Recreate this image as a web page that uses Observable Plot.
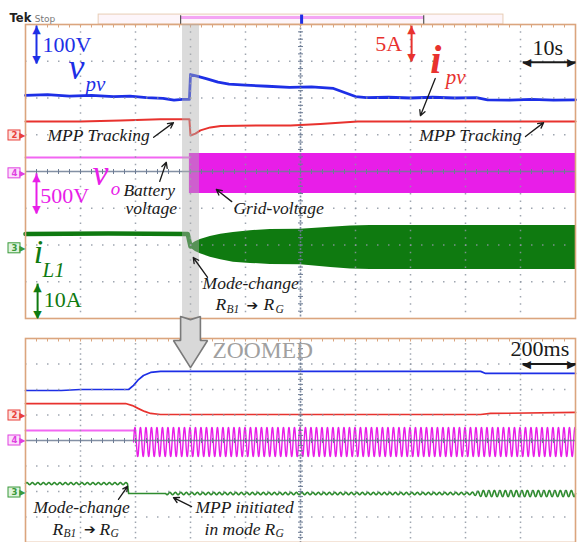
<!DOCTYPE html>
<html><head><meta charset="utf-8">
<script src="https://cdn.jsdelivr.net/npm/d3@7"></script>
<script src="https://cdn.jsdelivr.net/npm/@observablehq/plot@0.6"></script>
<style>
body{margin:0;background:#fff;}
#chart{position:relative;width:577px;height:542px;overflow:hidden;background:#fff;}
#chart svg{display:block;overflow:visible;}
</style></head><body><div id="chart"></div>
<script>
// ===== DATA (values in oscilloscope graticule divisions; time in seconds) =====
// Top panel, 10 s/div
const topVpvT = [-50,-46,-42,-38,-34,-31,-28,-25,-23,-21.5,-20.2,-20,-19,-17,-15,-13,-10,-6,-2,2,6,8,10,12,16,20,24,28,32,34,38,42,46,50];
const topVpvD = [2.07,2.09,2.05,2.07,2.04,2.05,2.01,1.99,1.94,1.96,1.96,2.64,2.60,2.52,2.43,2.38,2.35,2.32,2.29,2.30,2.26,2.15,2.04,2.01,2.02,2.00,2.02,2.00,2.01,1.95,1.94,1.96,1.94,1.95];
const topIpvT = [-50,-40,-32.7,-25.5,-20.2,-20,-19.1,-18.2,-16.4,-14.5,-7.3,-1.8,3.6,10.4,50];
const topIpvD = [1.36,1.36,1.39,1.42,1.42,0.98,1.03,1.12,1.20,1.24,1.25,1.25,1.29,1.36,1.36];
const topVoLineT = [-50,-20.2];
const topVoLineD = [0.38,0.38];
const topVoBandT = [-20.2,50];
const topVoBandHi = [0.49,0.49];
const topVoBandLo = [-0.60,-0.60];
const topIlLineT = [-50,-35,-20.5,-20.0];
const topIlLineD = [-1.70,-1.69,-1.70,-2.04];
const topIlBandT = [-20.0,-19.6,-19.1,-18.2,-16.4,-14.5,-12.2,-9.1,-5.5,0,5.5,9.1,12.7,50];
const topIlBandHi = [-2.00,-1.96,-1.91,-1.85,-1.77,-1.71,-1.66,-1.61,-1.58,-1.57,-1.52,-1.48,-1.47,-1.47];
const topIlBandLo = [-2.08,-2.12,-2.18,-2.24,-2.33,-2.40,-2.47,-2.50,-2.53,-2.54,-2.61,-2.65,-2.67,-2.67];
const topModeChange = [-21.45,-18.36]; // shaded zoom window

// Bottom panel (zoomed), 200 ms/div
const botVpvT = [-1,-0.87,-0.8,-0.625,-0.607,-0.589,-0.571,-0.545,-0.509,0.655,0.673,1];
const botVpvD = [1.96,1.96,2.0,2.0,2.16,2.39,2.55,2.67,2.71,2.71,2.63,2.63];
const botIpvT = [-1,-0.636,-0.611,-0.589,-0.567,-0.545,-0.509,0.655,0.691,1];
const botIpvD = [1.45,1.45,1.37,1.25,1.14,1.06,1.02,1.02,1.06,1.10];
const botVoLineT = [-1,-0.607];
const botVoLineD = [0.39,0.39];
const gridHz = 50;                 // grid-voltage frequency read from cycles per division
const botVoStart = -0.607, botVoEnd = 1, botVoCenter = -0.06, botVoAmp = 0.57;
const botIlLevelT = [-1,-0.629,-0.625,1];
const botIlLevelD = [-1.69,-1.69,-2.08,-2.08];
const botIlRippleT = [-1,-0.629,-0.628,-0.49,-0.489,0.62,0.66,1];
const botIlRippleA = [0.04,0.04,0,0,0.045,0.045,0.12,0.12];

// ===== STYLE =====
const BLUE="#1d2fe6", RED="#e8322e", MAG="#e81ee8", MAGL="#f266f2", GREEN="#0f7a10", GREENB="#2f8c2f", INK="#1a1a1a";
const TAN="#dba57e", GRID="#8e97a2", AXIS="#6d7c94";
const serif="'Liberation Serif','DejaVu Serif',serif", sans="'DejaVu Sans','Liberation Sans',sans-serif";

const zip = (T,D) => T.map((t,i)=>({t, d:D[i]}));
const zip3 = (T,H,L) => T.map((t,i)=>({t, hi:H[i], lo:L[i]}));

function graticule(xDiv, divPx) {
  const ps = 55/xDiv;
  const majorX = d3.range(-4,5).filter(k=>k!==0).map(k=>k*xDiv);
  const majorY = [-3,-2,-1,1,2,3];
  const minorX = d3.range(-25,26).map(k=>k*xDiv/5);
  const minorY = d3.range(-20,21).map(k=>k/5);
  const per = divPx/5;
  return [
    Plot.ruleY(majorY, {stroke:GRID, strokeWidth:1.5, strokeDasharray:"1.5,9.5", strokeOpacity:0.85}),
    Plot.ruleX(majorX, {stroke:GRID, strokeWidth:1.5, strokeDasharray:`1.5,${(per-1.5).toFixed(2)}`, strokeOpacity:0.85}),
    Plot.ruleY([0], {stroke:AXIS, strokeWidth:1.3, strokeOpacity:0.85}),
    Plot.ruleX([0], {stroke:AXIS, strokeWidth:1.6, strokeDasharray:"2,1.5", strokeOpacity:0.85}),
    Plot.link(minorX, {x1:d=>d, x2:d=>d, y1:-2.5/divPx, y2:2.5/divPx, stroke:AXIS, strokeWidth:1}),
    Plot.link(minorY, {x1:-2.5/ps, x2:2.5/ps, y1:d=>d, y2:d=>d, stroke:AXIS, strokeWidth:1}),
    Plot.link(minorX, {x1:d=>d, x2:d=>d, y1:4, y2:4-3/divPx, stroke:TAN, strokeWidth:1}),
    Plot.frame({stroke:TAN, strokeWidth:1.6})
  ];
}
function labels(arr) {
  return arr.map(l => Plot.text([l], {x:"t", y:"d", text:"s", fontSize:l.size, fill:l.color,
    fontStyle:l.italic?"italic":"normal", fontWeight:l.bold?"bold":"normal", fontFamily:l.font||serif,
    textAnchor:"start", lineAnchor:"bottom"}));
}
function pointers(arr) {
  return [Plot.arrow(arr, {x1:"t1", y1:"d1", x2:"t2", y2:"d2", stroke:INK, strokeWidth:1.3, headLength:7, headAngle:55})];
}
function bars(arr) {
  return arr.flatMap(b => {
    const m = [Plot.link([b], {x1:"t1", y1:"d1", x2:"t2", y2:"d2", stroke:b.color, strokeWidth:2})];
    const g = {fontFamily:sans, fontSize:11, fill:b.color};
    if (b.v) {
      m.push(Plot.text([b], {x:"t1", y:"d1", text:()=>"▲", textAnchor:"middle", lineAnchor:"top", ...g}));
      m.push(Plot.text([b], {x:"t2", y:"d2", text:()=>"▼", textAnchor:"middle", lineAnchor:"bottom", ...g}));
    } else {
      m.push(Plot.text([b], {x:"t1", y:"d1", text:()=>"◀", textAnchor:"start", lineAnchor:"middle", ...g}));
      m.push(Plot.text([b], {x:"t2", y:"d2", text:()=>"▶", textAnchor:"end", lineAnchor:"middle", ...g}));
    }
    return m;
  });
}
function tags(arr, xLeft) {
  return arr.flatMap(c => [
    Plot.rect([c], {x1:xLeft, x2:xLeft, y1:"d", y2:"d", insetLeft:-17, insetRight:5, insetTop:-5, insetBottom:-5, fill:c.light, stroke:c.color, strokeWidth:1}),
    Plot.text([c], {x:xLeft, y:"d", text:()=>"▶", fontSize:8, fill:c.color, textAnchor:"end", lineAnchor:"middle", dx:0, fontFamily:sans}),
    Plot.text([c], {x:xLeft, y:"d", text:"ch", fontSize:8.5, fontWeight:"bold", fill:c.color, textAnchor:"middle", lineAnchor:"middle", dx:-11, fontFamily:sans})
  ]);
}

// ===== annotation layout =====
const topLabels = [
  {t:-46.9,d:3.24,s:"100V",size:22,color:BLUE},
  {t:-42.2,d:2.53,s:"v",size:36,color:BLUE,italic:true},
  {t:-39.1,d:2.20,s:"pv",size:21,color:BLUE,italic:true},
  {t:13.6,d:3.29,s:"5A",size:22,color:RED},
  {t:23.6,d:2.69,s:"i",size:40,color:RED,italic:true,bold:true},
  {t:26.4,d:2.37,s:"pv",size:21,color:RED,italic:true},
  {t:42.2,d:3.18,s:"10s",size:22,color:INK},
  {t:-46.0,d:0.84,s:"MPP Tracking",size:17.5,color:INK,italic:true},
  {t:21.6,d:0.84,s:"MPP Tracking",size:17.5,color:INK,italic:true},
  {t:-47.3,d:-0.87,s:"500V",size:22,color:MAG},
  {t:-37.8,d:-0.38,s:"v",size:36,color:MAG,italic:true},
  {t:-34.5,d:-0.65,s:"o",size:19,color:MAG,italic:true},
  {t:-32.2,d:-0.68,s:"Battery",size:17.5,color:INK,italic:true},
  {t:-31.8,d:-1.17,s:"voltage",size:17.5,color:INK,italic:true},
  {t:-12.2,d:-1.17,s:"Grid-voltage",size:17.5,color:INK,italic:true},
  {t:-48.5,d:-2.50,s:"i",size:34,color:GREEN,italic:true},
  {t:-46.9,d:-2.86,s:"L1",size:21,color:GREEN,italic:true},
  {t:-46.7,d:-3.70,s:"10A",size:22,color:GREEN},
  {t:-17.8,d:-3.21,s:"Mode-change",size:17.5,color:INK,italic:true},
  {t:-15.45,d:-3.78,s:"R",size:17.5,color:INK,italic:true},
  {t:-13.45,d:-3.86,s:"B1",size:11.5,color:INK,italic:true},
  {t:-9.8,d:-3.76,s:"➔",size:14,color:INK,font:sans},
  {t:-6.73,d:-3.78,s:"R",size:17.5,color:INK,italic:true},
  {t:-4.55,d:-3.86,s:"G",size:11.5,color:INK,italic:true},
  {t:-52.9,d:4.08,s:"Tek",size:11.5,color:"#222",bold:true,font:sans},
  {t:-48.3,d:4.08,s:"Stop",size:9,color:"#777",font:sans}
];
const topArrows = [
  {t1:-26.7,d1:0.93,t2:-23.1,d2:1.33},
  {t1:40.9,d1:0.95,t2:44.2,d2:1.33},
  {t1:24.5,d1:2.53,t2:21.8,d2:1.52},
  {t1:-25.6,d1:-0.27,t2:-24.4,d2:0.25},
  {t1:-12.5,d1:-0.82,t2:-15.3,d2:-0.49},
  {t1:-16.9,d1:-2.88,t2:-19.5,d2:-2.34}
];
const topBars = [
  {t1:-48,d1:3.97,t2:-48,d2:2.94,color:BLUE,v:true},
  {t1:20.2,d1:3.97,t2:20.2,d2:3.0,color:RED,v:true},
  {t1:-48,d1:-0.05,t2:-48,d2:-1.14,color:MAG,v:true},
  {t1:-47.8,d1:-3.05,t2:-47.8,d2:-3.98,color:GREEN,v:true},
  {t1:40.4,d1:2.97,t2:50,d2:2.97,color:INK,v:false}
];
const topTags = [
  {ch:"2",d:0.98,color:"#e8403a",light:"#fde0de"},
  {ch:"4",d:-0.05,color:"#e040e0",light:"#fbe0fb"},
  {ch:"3",d:-2.09,color:"#3a9a3a",light:"#e0f3e0"}
];
const botLabels = [
  {t:0.764,d:3.30,s:"200ms",size:22,color:INK},
  {t:-0.32,d:3.216,s:"ZOOMED",size:23.5,color:"#a0a0a0"},
  {t:-0.971,d:-2.86,s:"Mode-change",size:17.5,color:INK,italic:true},
  {t:-0.902,d:-3.69,s:"R",size:17.5,color:INK,italic:true},
  {t:-0.862,d:-3.80,s:"B1",size:11.5,color:INK,italic:true},
  {t:-0.787,d:-3.66,s:"➔",size:14,color:INK,font:sans},
  {t:-0.731,d:-3.69,s:"R",size:17.5,color:INK,italic:true},
  {t:-0.691,d:-3.80,s:"G",size:11.5,color:INK,italic:true},
  {t:-0.382,d:-2.86,s:"MPP initiated",size:17.5,color:INK,italic:true},
  {t:-0.349,d:-3.69,s:"in mode",size:17.5,color:INK,italic:true},
  {t:-0.131,d:-3.69,s:"R",size:17.5,color:INK,italic:true},
  {t:-0.091,d:-3.80,s:"G",size:11.5,color:INK,italic:true}
];
const botArrows = [
  {t1:-0.662,d1:-2.31,t2:-0.629,d2:-1.80},
  {t1:-0.396,d1:-2.59,t2:-0.462,d2:-2.24}
];
const botBars = [{t1:0.807,d1:3.0,t2:1.0,d2:3.0,color:INK,v:false}];
const botTags = [
  {ch:"2",d:0.98,color:"#e8403a",light:"#fde0de"},
  {ch:"4",d:0,color:"#e040e0",light:"#fbe0fb"},
  {ch:"3",d:-2.04,color:"#3a9a3a",light:"#e0f3e0"}
];
const zoomArrow = [[-0.436,4.86],[-0.4,4.74],[-0.364,4.86],[-0.364,3.92],[-0.338,3.92],[-0.4,2.86],[-0.462,3.92],[-0.436,3.92],[-0.436,4.86]];

// ===== TOP PANEL =====
const topPlot = Plot.plot({
  width:577, height:330, marginTop:24, marginBottom:12, marginLeft:25, marginRight:2,
  x:{domain:[-50,50], axis:null}, y:{domain:[-4,4], axis:null},
  style:{overflow:"visible", background:"transparent"},
  marks:[
    Plot.rect([{}], {x1:-36.7, x2:36.9, y1:4.0, y2:4.27, fill:"#fdf5f9", stroke:"#e8cdb5"}),
    Plot.link([{}], {x1:-21.8, x2:22.4, y1:4.19, y2:4.19, stroke:"#f4a6f4", strokeWidth:3}),
    Plot.link([-21.8,22.4], {x1:d=>d, x2:d=>d, y1:4.0, y2:4.25, stroke:"#555", strokeWidth:1.2}),
    Plot.link([{}], {x1:0.2, x2:0.2, y1:4.0, y2:4.27, stroke:BLUE, strokeWidth:3}),
    Plot.areaY(zip3(topVoBandT, topVoBandHi, topVoBandLo), {x:"t", y1:"lo", y2:"hi", fill:MAG}),
    Plot.line(zip(topVoLineT, topVoLineD), {x:"t", y:"d", stroke:MAGL, strokeWidth:2}),
    Plot.areaY(zip3(topIlBandT, topIlBandHi, topIlBandLo), {x:"t", y1:"lo", y2:"hi", fill:GREEN}),
    Plot.line(zip(topIlLineT, topIlLineD), {x:"t", y:"d", stroke:GREEN, strokeWidth:4.5}),
    Plot.line(zip(topIpvT, topIpvD), {x:"t", y:"d", stroke:RED, strokeWidth:2}),
    Plot.line(zip(topVpvT, topVpvD), {x:"t", y:"d", stroke:BLUE, strokeWidth:2.8, curve:"linear"}),
    ...graticule(10, 36.75),
    Plot.rect([{}], {x1:topModeChange[0], x2:topModeChange[1], y1:-4.3, y2:4, fill:"#b0b0b0", fillOpacity:0.45}),
    ...tags(topTags, -50),
    ...bars(topBars),
    ...pointers(topArrows),
    ...labels(topLabels)
  ]
});

// ===== BOTTOM PANEL =====
const voPts = d3.range(botVoStart, botVoEnd, 0.0004).map(t => ({t, d: botVoCenter + botVoAmp*Math.sin(2*Math.PI*gridHz*(t-botVoStart))}));
const lvl = d3.scaleLinear().domain(botIlLevelT).range(botIlLevelD);
const amp = d3.scaleLinear().domain(botIlRippleT).range(botIlRippleA);
const ilPts = d3.range(-1, 1.0001, 0.0004).map(t => ({t, d: lvl(t) + amp(t)*Math.sin(2*Math.PI*gridHz*t)}));

const bottomPlot = Plot.plot({
  width:577, height:212, marginTop:8, marginBottom:0, marginLeft:25, marginRight:2,
  x:{domain:[-1,1], axis:null}, y:{domain:[-4,4], axis:null},
  style:{overflow:"visible", background:"transparent"},
  marks:[
    Plot.line(zip(botVoLineT, botVoLineD), {x:"t", y:"d", stroke:MAGL, strokeWidth:2}),
    Plot.line(voPts, {x:"t", y:"d", stroke:MAG, strokeWidth:1.4}),
    Plot.line(ilPts, {x:"t", y:"d", stroke:GREENB, strokeWidth:1.6}),
    Plot.line(zip(botIpvT, botIpvD), {x:"t", y:"d", stroke:RED, strokeWidth:1.7}),
    Plot.line(zip(botVpvT, botVpvD), {x:"t", y:"d", stroke:BLUE, strokeWidth:1.7}),
    ...graticule(0.2, 25.5),
    Plot.line(zoomArrow.map(([t,d])=>({t,d})), {x:"t", y:"d", fill:"#d8d8d8", stroke:"#7a7a7a", strokeWidth:1.6, strokeLinejoin:"miter"}),
    ...tags(botTags, -1),
    ...bars(botBars),
    ...pointers(botArrows),
    ...labels(botLabels)
  ]
});

document.getElementById("chart").append(topPlot, bottomPlot);
</script>
</body></html>
